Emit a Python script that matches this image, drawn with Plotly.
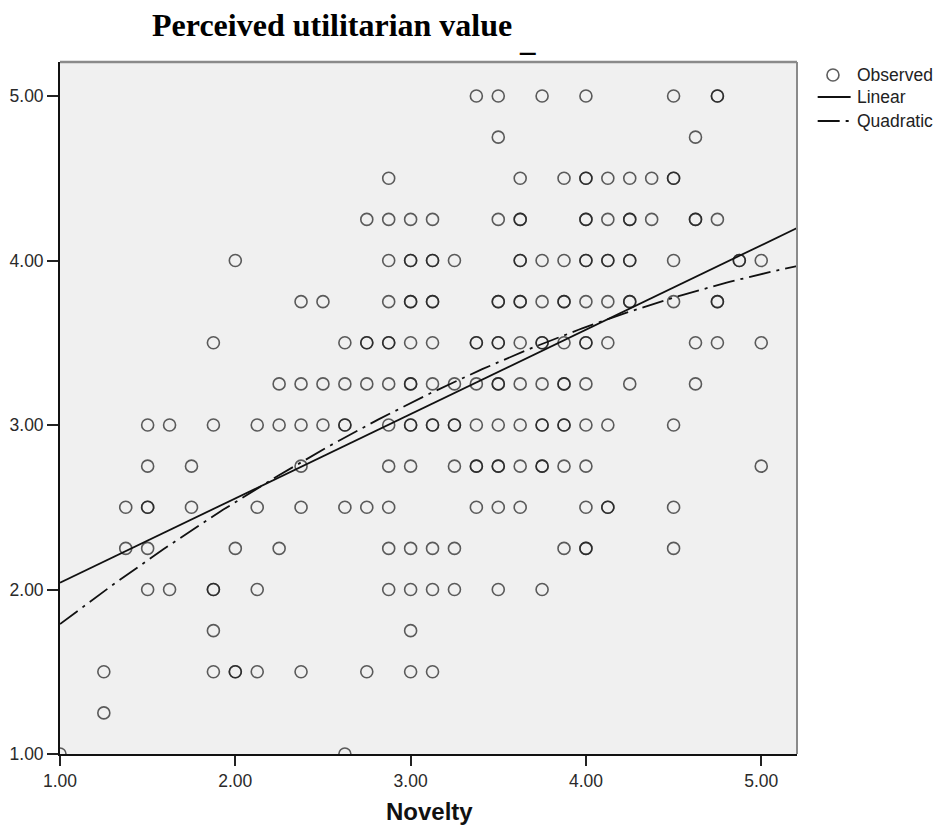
import numpy as np
import plotly.graph_objects as go

# ---- Data ----
# Perceived utilitarian value levels (y) and the Novelty values (x) observed at each level.
# Repeated x values mark overlapping (darker) circles.
levels = [5.0, 4.75, 4.5, 4.25, 4.0, 3.75, 3.5, 3.25, 3.0, 2.75, 2.5, 2.25, 2.0, 1.75, 1.5, 1.25, 1.0]
x_at_500 = [3.375, 3.5, 3.75, 4.0, 4.5, 4.75, 4.75]
x_at_475 = [3.5, 4.625]
x_at_450 = [2.875, 3.625, 3.875, 4.0, 4.0, 4.125, 4.25, 4.375, 4.5, 4.5]
x_at_425 = [2.75, 2.875, 3.0, 3.125, 3.5, 3.625, 3.625, 4.0, 4.0, 4.125, 4.25, 4.25, 4.375, 4.625, 4.625, 4.75]
x_at_400 = [2.0, 2.875, 3.0, 3.0, 3.125, 3.125, 3.25, 3.625, 3.625, 3.75, 3.875, 4.0, 4.0, 4.125, 4.125,
            4.25, 4.25, 4.5, 4.875, 4.875, 5.0]
x_at_375 = [2.375, 2.5, 2.875, 3.0, 3.0, 3.125, 3.125, 3.5, 3.5, 3.625, 3.625, 3.75, 3.875, 3.875, 4.0,
            4.125, 4.25, 4.25, 4.5, 4.75, 4.75]
x_at_350 = [1.875, 2.625, 2.75, 2.75, 2.875, 2.875, 3.0, 3.125, 3.375, 3.375, 3.5, 3.5, 3.625, 3.75, 3.75,
            3.875, 4.0, 4.0, 4.125, 4.625, 4.75, 5.0]
x_at_325 = [2.25, 2.375, 2.5, 2.625, 2.75, 2.875, 3.0, 3.0, 3.125, 3.25, 3.375, 3.5, 3.5, 3.625, 3.75,
            3.875, 3.875, 4.0, 4.25, 4.625]
x_at_300 = [1.5, 1.625, 1.875, 2.125, 2.25, 2.375, 2.5, 2.625, 2.625, 2.875, 3.0, 3.0, 3.125, 3.125, 3.25,
            3.25, 3.375, 3.5, 3.625, 3.75, 3.75, 3.875, 3.875, 4.0, 4.125, 4.5]
x_at_275 = [1.5, 1.75, 2.375, 2.875, 3.0, 3.25, 3.375, 3.375, 3.5, 3.5, 3.625, 3.75, 3.75, 3.875, 4.0, 5.0]
x_at_250 = [1.375, 1.5, 1.5, 1.75, 2.125, 2.375, 2.625, 2.75, 2.875, 3.375, 3.5, 3.625, 4.0, 4.125, 4.125, 4.5]
x_at_225 = [1.375, 1.5, 2.0, 2.25, 2.875, 3.0, 3.125, 3.25, 3.875, 4.0, 4.0, 4.5]
x_at_200 = [1.5, 1.625, 1.875, 1.875, 2.125, 2.875, 3.0, 3.125, 3.25, 3.5, 3.75]
x_at_175 = [1.875, 3.0]
x_at_150 = [1.25, 1.875, 2.0, 2.0, 2.125, 2.375, 2.75, 3.0, 3.125]
x_at_125 = [1.25]
x_at_100 = [1.0, 2.625]

x_by_level = [x_at_500, x_at_475, x_at_450, x_at_425, x_at_400, x_at_375, x_at_350, x_at_325, x_at_300,
              x_at_275, x_at_250, x_at_225, x_at_200, x_at_175, x_at_150, x_at_125, x_at_100]

novelty = [x for lvl, xs in zip(levels, x_by_level) for x in xs]
utilitarian = [lvl for lvl, xs in zip(levels, x_by_level) for _ in xs]

# Fitted curves (coefficients)
linear_coef = [1.528, 0.513]             # b0, b1
quad_coef = [0.908, 0.952, -0.07]        # b0, b1, b2

tick_vals = [1, 2, 3, 4, 5]
tick_text = ["1.00", "2.00", "3.00", "4.00", "5.00"]

title_text = "Perceived utilitarian value"
x_title = "Novelty"
legend_names = ["Observed", "Linear", "Quadratic"]

# ---- Styles ----
MARKER_COLOR = "rgba(25,25,25,0.7)"
LINE_COLOR = "#111111"
QUAD_DASH = "22px,6px,3px,6px"

# ---- Layout geometry (page has an 8px body margin) ----
OFF = 8
W, H = 926, 819
L, R, T, B = 51.5, 136.7, 54, 73
pw, ph = W - L - R, H - T - B
x_range = [1.0, 5.204]
y_range = [1.0, 5.207]

def px_x(p):
    """screen pixel x -> paper coordinate"""
    return (p - OFF - L) / pw

def px_y(p):
    """screen pixel y -> paper coordinate"""
    return (H - B - (p - OFF)) / ph

fit_x = np.linspace(x_range[0], x_range[1], 200)
lin_y = linear_coef[0] + linear_coef[1] * fit_x
quad_y = quad_coef[0] + quad_coef[1] * fit_x + quad_coef[2] * fit_x ** 2

fig = go.Figure()
fig.add_trace(go.Scatter(
    x=novelty, y=utilitarian, mode="markers", name=legend_names[0],
    marker=dict(symbol="circle-open", size=12, color=MARKER_COLOR, line=dict(width=1.6)),
))
fig.add_trace(go.Scatter(
    x=fit_x, y=lin_y, mode="lines", name=legend_names[1],
    line=dict(color=LINE_COLOR, width=1.8),
))
fig.add_trace(go.Scatter(
    x=fit_x, y=quad_y, mode="lines", name=legend_names[2],
    line=dict(color=LINE_COLOR, width=1.8, dash=QUAD_DASH),
))

tickfont = dict(family="Liberation Sans, Arial, sans-serif", size=17.5, color="#2a2a2a")

fig.update_xaxes(
    range=x_range, tickvals=tick_vals, ticktext=tick_text, ticks="outside", ticklen=10,
    tickwidth=1.5, tickcolor="#222222", showline=True, linecolor="#111111", linewidth=1.8,
    showgrid=False, zeroline=False, tickfont=tickfont, fixedrange=True, automargin=False,
)
fig.update_yaxes(
    range=y_range, tickvals=tick_vals, ticktext=tick_text, ticks="outside", ticklen=11,
    tickwidth=1.5, tickcolor="#222222", showline=True, linecolor="#111111", linewidth=1.8,
    showgrid=False, zeroline=False, tickfont=tickfont, fixedrange=True, automargin=False,
)

# grey frame (top and right)
fig.add_shape(type="line", xref="paper", yref="paper", x0=0, x1=1, y0=1, y1=1,
              line=dict(color="#8a8a8a", width=2.5))
fig.add_shape(type="line", xref="paper", yref="paper", x0=1, x1=1, y0=0, y1=1,
              line=dict(color="#8a8a8a", width=2))

# title and axis title
fig.add_annotation(
    text="<b>" + title_text + "</b>", xref="paper", yref="paper",
    x=px_x(151), y=px_y(44), xanchor="left", yanchor="bottom", showarrow=False, borderpad=0,
    font=dict(family="Liberation Serif, Times New Roman, serif", size=32, color="#000000"),
)
fig.add_annotation(
    text="<b>_</b>", xref="paper", yref="paper",
    x=px_x(518), y=px_y(59), xanchor="left", yanchor="bottom", showarrow=False, borderpad=0,
    font=dict(family="Liberation Serif, Times New Roman, serif", size=31, color="#000000"),
)
fig.add_annotation(
    text="<b>" + x_title + "</b>", xref="paper", yref="paper",
    x=px_x(429), y=px_y(826), xanchor="center", yanchor="bottom", showarrow=False, borderpad=0,
    font=dict(family="Liberation Sans, Arial, sans-serif", size=24, color="#111111"),
)

# legend (drawn by hand so it does not push the plot margins)
leg_font = dict(family="Liberation Sans, Arial, sans-serif", size=17.5, color="#222222")
leg_rows = [75, 97, 121]
fig.add_shape(type="circle", xref="paper", yref="paper",
              x0=px_x(827.3), x1=px_x(839.3), y0=px_y(81), y1=px_y(69),
              line=dict(color=MARKER_COLOR, width=1.6))
fig.add_shape(type="line", xref="paper", yref="paper",
              x0=px_x(818), x1=px_x(851), y0=px_y(leg_rows[1]), y1=px_y(leg_rows[1]),
              line=dict(color=LINE_COLOR, width=1.8))
fig.add_shape(type="line", xref="paper", yref="paper",
              x0=px_x(818), x1=px_x(851), y0=px_y(leg_rows[2]), y1=px_y(leg_rows[2]),
              line=dict(color=LINE_COLOR, width=1.8, dash=QUAD_DASH))
for name, ry in zip(legend_names, leg_rows):
    fig.add_annotation(
        text=name, xref="paper", yref="paper", x=px_x(856), y=px_y(ry),
        xanchor="left", yanchor="middle", showarrow=False, borderpad=0, font=leg_font,
    )

fig.update_layout(
    width=W, height=H,
    margin=dict(l=L, r=R, t=T, b=B, pad=0, autoexpand=False),
    paper_bgcolor="white", plot_bgcolor="#f0f0f0",
    showlegend=False,
)

fig.write_html("out.html")
